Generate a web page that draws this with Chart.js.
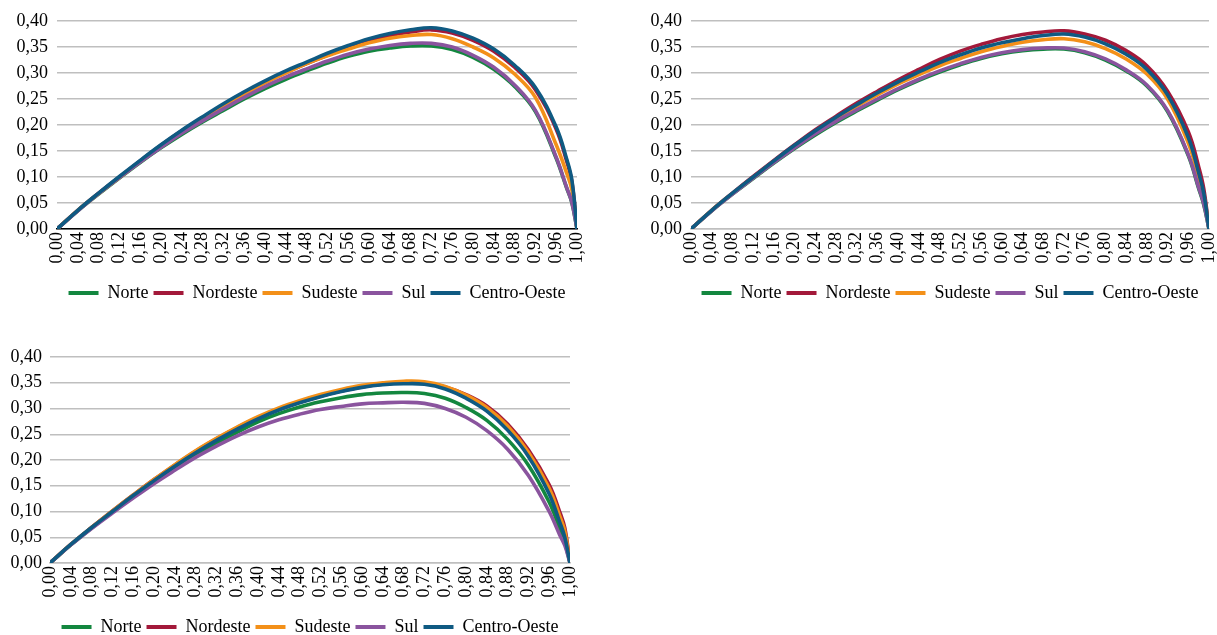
<!DOCTYPE html>
<html>
<head>
<meta charset="utf-8">
<script src="https://cdn.jsdelivr.net/npm/chart.js@4.4.1/dist/chart.umd.min.js"></script>
<style>
html,body{margin:0;padding:0;background:#fff;overflow:hidden;width:1217px;height:635px;position:relative;}
canvas{position:absolute;}
</style>
</head>
<body>
<canvas id="c1" width="634" height="312" style="left:0;top:0"></canvas>
<canvas id="c2" width="632" height="312" style="left:634px;top:0"></canvas>
<canvas id="c3" width="620" height="310" style="left:0;top:336px"></canvas>
<script>
// ---- data ----
const regions = ["Norte", "Nordeste", "Sudeste", "Sul", "Centro-Oeste"];
const colors = ["#13873f", "#a3193a", "#f39019", "#8a549e", "#0f5a82"];
const xValues = [0, 0.04, 0.08, 0.12, 0.16, 0.20, 0.24, 0.28, 0.32, 0.36, 0.40, 0.44, 0.48, 0.52, 0.56, 0.60, 0.64, 0.68, 0.72, 0.76, 0.80, 0.84, 0.88, 0.92, 0.96, 0.98, 0.99, 1.00];
const xTickValues = [0, 0.04, 0.08, 0.12, 0.16, 0.20, 0.24, 0.28, 0.32, 0.36, 0.40, 0.44, 0.48, 0.52, 0.56, 0.60, 0.64, 0.68, 0.72, 0.76, 0.80, 0.84, 0.88, 0.92, 0.96, 1.00];
const yTickValues = [0, 0.05, 0.10, 0.15, 0.20, 0.25, 0.30, 0.35, 0.40];

// Panel 1
const p1Norte       = [0, .035, .067, .098, .128, .156, .182, .206, .228, .250, .270, .288, .304, .319, .332, .342, .348, .352, .352, .345, .330, .307, .274, .226, .136, .079, .051, 0];
const p1Nordeste    = [0, .036, .069, .100, .131, .161, .189, .214, .238, .261, .282, .301, .318, .334, .349, .362, .372, .379, .383, .377, .363, .342, .311, .268, .192, .131, .092, 0];
const p1Sudeste     = [0, .036, .068, .099, .130, .159, .187, .212, .236, .259, .281, .300, .318, .333, .346, .358, .367, .372, .374, .366, .350, .329, .298, .253, .162, .108, .076, 0];
const p1Sul         = [0, .035, .068, .099, .129, .157, .184, .208, .231, .253, .274, .292, .308, .323, .336, .346, .353, .357, .357, .350, .334, .311, .277, .228, .138, .080, .052, 0];
const p1CentroOeste = [0, .036, .069, .101, .132, .162, .190, .216, .241, .264, .285, .304, .321, .338, .353, .366, .376, .383, .387, .381, .367, .346, .315, .272, .196, .135, .095, 0];

// Panel 2
const p2Norte       = [0, .035, .067, .097, .127, .155, .181, .205, .227, .248, .268, .286, .302, .316, .328, .337, .343, .346, .346, .339, .325, .304, .275, .226, .141, .078, .046, 0];
const p2Nordeste    = [0, .036, .069, .101, .132, .162, .191, .217, .242, .265, .287, .307, .326, .342, .355, .366, .374, .379, .381, .375, .363, .343, .314, .265, .187, .120, .077, 0];
const p2Sudeste     = [0, .036, .068, .099, .130, .159, .187, .212, .236, .258, .279, .297, .314, .328, .341, .351, .359, .364, .366, .360, .347, .327, .298, .250, .165, .100, .064, 0];
const p2Sul         = [0, .035, .067, .098, .128, .156, .183, .207, .229, .250, .270, .288, .304, .318, .330, .339, .345, .348, .348, .341, .327, .306, .277, .228, .143, .080, .048, 0];
const p2CentroOeste = [0, .036, .069, .100, .131, .161, .189, .215, .239, .262, .283, .302, .320, .335, .348, .358, .366, .372, .375, .369, .356, .336, .307, .258, .176, .108, .068, 0];

// Panel 3
const p3Norte       = [0, .035, .068, .099, .129, .158, .185, .210, .233, .254, .274, .290, .303, .313, .321, .327, .330, .331, .329, .320, .302, .277, .240, .190, .118, .068, .040, 0];
const p3Nordeste    = [0, .036, .069, .101, .132, .162, .190, .217, .241, .263, .282, .298, .312, .324, .334, .342, .347, .350, .350, .342, .327, .305, .270, .220, .152, .100, .068, 0];
const p3Sudeste     = [0, .036, .069, .101, .132, .162, .191, .218, .242, .264, .284, .301, .315, .327, .337, .345, .350, .353, .352, .343, .326, .302, .266, .215, .145, .092, .062, 0];
const p3Sul         = [0, .035, .067, .097, .126, .154, .180, .205, .227, .247, .264, .278, .289, .298, .304, .309, .311, .312, .310, .300, .283, .257, .221, .170, .100, .055, .034, 0];
const p3CentroOeste = [0, .036, .069, .100, .131, .160, .188, .214, .238, .260, .280, .297, .311, .323, .333, .341, .346, .348, .347, .338, .320, .295, .258, .207, .134, .080, .050, 0];

// ---- rendering ----
Chart.defaults.font.family = "'Liberation Serif', 'Times New Roman', serif";
Chart.defaults.font.size = 18;
Chart.defaults.color = '#000';
Chart.defaults.animation = false;

const fmt = v => Number(v).toFixed(2).replace('.', ',');

function makePanel(id, series, o) {
  const datasets = series.map((arr, i) => ({
    label: regions[i],
    data: xValues.map((x, k) => ({x: x, y: arr[k]})),
    borderColor: colors[i],
    backgroundColor: colors[i],
    borderWidth: 3.6,
    pointRadius: 0,
    tension: 0.4,
    order: series.length - i
  }));
  new Chart(document.getElementById(id), {
    type: 'line',
    data: {datasets},
    options: {
      responsive: false,
      animation: false,
      layout: {padding: {top: 21, right: o.padRight, bottom: 0, left: 0}},
      plugins: {
        tooltip: {enabled: false},
        legend: {
          position: 'bottom',
          fullSize: false,
          labels: {
            boxWidth: 30, boxHeight: 4, padding: 5,
            font: {size: 18},
            generateLabels: chart => chart.data.datasets.map((ds, i) => ({
              text: ds.label, fillStyle: ds.borderColor, strokeStyle: ds.borderColor,
              lineWidth: 0, hidden: false, datasetIndex: i, fontColor: '#000'
            }))
          }
        }
      },
      scales: {
        x: {
          type: 'linear', min: 0, max: 1,
          afterBuildTicks: s => { s.ticks = xTickValues.map(v => ({value: v})); },
          afterFit: s => { s.height = 50; },
          grid: {display: false, drawTicks: false},
          border: {display: true, color: o.xBorder, width: 1.5},
          ticks: {autoSkip: false, minRotation: 90, maxRotation: 90, padding: 3,
                  callback: v => fmt(v), font: {size: 18}}
        },
        y: {
          min: 0, max: 0.40,
          afterBuildTicks: s => { s.ticks = yTickValues.map(v => ({value: v})); },
          afterFit: s => { s.width = o.yWidth; },
          grid: {color: '#bfbfbf', lineWidth: 1.5, drawTicks: false},
          border: {display: false},
          ticks: {autoSkip: false, padding: o.yPad, callback: v => fmt(v), font: {size: 18}}
        }
      }
    }
  });
}

makePanel('c1', [p1Norte, p1Nordeste, p1Sudeste, p1Sul, p1CentroOeste], {padRight: 57, yWidth: 57, yPad: 9, xBorder: '#000'});
makePanel('c2', [p2Norte, p2Nordeste, p2Sudeste, p2Sul, p2CentroOeste], {padRight: 57, yWidth: 57, yPad: 9, xBorder: '#bfbfbf'});
makePanel('c3', [p3Norte, p3Nordeste, p3Sudeste, p3Sul, p3CentroOeste], {padRight: 50, yWidth: 50, yPad: 8, xBorder: '#bfbfbf'});
</script>
</body>
</html>
